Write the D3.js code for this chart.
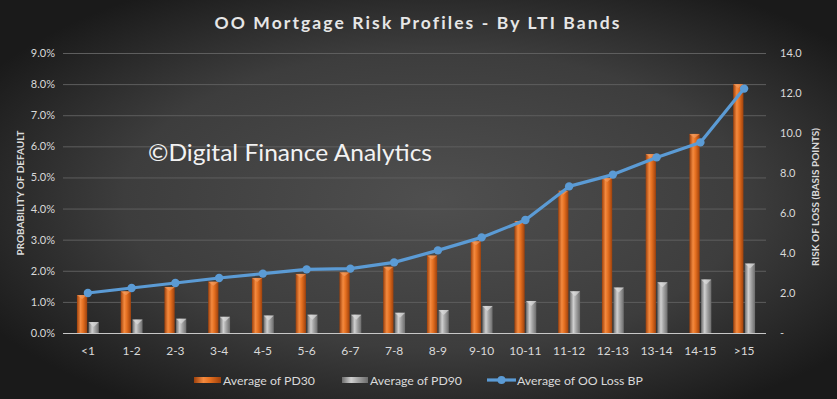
<!DOCTYPE html>
<html><head><meta charset="utf-8">
<script src="https://cdn.jsdelivr.net/npm/d3@7"></script>
<style>html,body{margin:0;padding:0;background:#333;overflow:hidden}svg{display:block}</style>
</head><body><svg id="c" width="837" height="399"></svg>
<script>
const categories = ["<1","1-2","2-3","3-4","4-5","5-6","6-7","7-8","8-9","9-10","10-11","11-12","12-13","13-14","14-15",">15"];
const pd30 = [1.22,1.34,1.48,1.65,1.77,1.90,1.95,2.13,2.49,2.95,3.60,4.57,4.98,5.75,6.40,8.00];
const pd90 = [0.35,0.43,0.46,0.52,0.56,0.59,0.59,0.65,0.74,0.87,1.03,1.34,1.46,1.63,1.72,2.23];
const lossBP = [2.00,2.25,2.50,2.75,2.97,3.18,3.22,3.53,4.13,4.78,5.65,7.33,7.92,8.78,9.53,12.22];
const leftTicks = [0,1,2,3,4,5,6,7,8,9];
const rightTicks = [0,2,4,6,8,10,12,14];
const seriesNames = ["Average of PD30","Average of PD90","Average of OO Loss BP"];

const svg = d3.select("#c");
const W = 837, H = 399;
const defs = svg.append("defs");
const bg = defs.append("radialGradient").attr("id","bg").attr("cx","52%").attr("cy","50%").attr("r","62%");
bg.append("stop").attr("offset","0%").attr("stop-color","#4f4f4f");
bg.append("stop").attr("offset","60%").attr("stop-color","#3d3d3d");
bg.append("stop").attr("offset","100%").attr("stop-color","#1a1a1a");
function cyl(id, edge, mid, hi){
  const g = defs.append("linearGradient").attr("id",id).attr("x1","0").attr("x2","1").attr("y1","0").attr("y2","0");
  g.append("stop").attr("offset","0%").attr("stop-color",edge);
  g.append("stop").attr("offset","35%").attr("stop-color",hi);
  g.append("stop").attr("offset","60%").attr("stop-color",mid);
  g.append("stop").attr("offset","100%").attr("stop-color",edge);
}
cyl("gO","#9e410c","#e46f20","#f48a3f");
cyl("gG","#6c6c6c","#a6a6a6","#d0d0d0");
svg.append("rect").attr("width",W).attr("height",H).attr("fill","url(#bg)");

const yL = d3.scaleLinear().domain([0,9]).range([333,53]);
const yR = d3.scaleLinear().domain([0,14]).range([333,53]);
const x = d3.scaleBand().domain(categories).range([66,766]).paddingInner(0.5).paddingOuter(0.25);
const x1 = d3.scaleBand().domain(["pd30","pd90"]).range([0,x.bandwidth()]).paddingInner(0.12);

// gridlines
svg.append("g").selectAll("line").data(leftTicks.slice(1)).join("line")
  .attr("x1",63).attr("x2",766).attr("y1",d=>yL(d)+0.5).attr("y2",d=>yL(d)+0.5)
  .attr("stroke","#5e5e5e").attr("stroke-width",1);

const font = "Lato, 'Open Sans', sans-serif";
// left axis
const gl = svg.append("g").attr("transform","translate(63,0)")
  .call(d3.axisLeft(yL).tickValues(leftTicks).tickSize(0).tickPadding(8).tickFormat(d=>d.toFixed(1)+"%"));
gl.select(".domain").remove();
gl.selectAll("text").attr("fill","#d9d9d9").style("font-family",font).style("font-size","11px");
// right axis
const gr = svg.append("g").attr("transform","translate(770,0)")
  .call(d3.axisRight(yR).tickValues(rightTicks).tickSize(0).tickPadding(10).tickFormat(d=>d===0?"-":d.toFixed(1)));
gr.select(".domain").remove();
gr.selectAll("text").attr("fill","#d9d9d9").style("font-family",font).style("font-size","11px");
// x axis
const gx = svg.append("g").attr("transform","translate(0,333)")
  .call(d3.axisBottom(x).tickSize(0).tickPadding(13));
gx.select(".domain").remove();
gx.selectAll("text").attr("fill","#d9d9d9").style("font-family",font).style("font-size","12px");

// bars
const gb = svg.append("g");
gb.selectAll("rect.o").data(categories).join("rect").attr("class","o")
  .attr("x",d=>x(d)+x1("pd30")).attr("width",x1.bandwidth())
  .attr("y",(d,i)=>yL(pd30[i])).attr("height",(d,i)=>yL(0)-yL(pd30[i]))
  .attr("fill","url(#gO)");
gb.selectAll("rect.g").data(categories).join("rect").attr("class","g")
  .attr("x",d=>x(d)+x1("pd90")).attr("width",x1.bandwidth())
  .attr("y",(d,i)=>yL(pd90[i])).attr("height",(d,i)=>yL(0)-yL(pd90[i]))
  .attr("fill","url(#gG)");
// bevel tops
gb.selectAll("path.gt").data(categories).join("path").attr("class","gt")
  .attr("d",(d,i)=>{const x0=x(d)+x1("pd90"),w=x1.bandwidth(),y0=yL(pd90[i]);
    return `M${x0},${y0}L${x0+w},${y0}L${x0+w/2},${y0+5}Z`;})
  .attr("fill","#dcdcdc").attr("opacity",0.7);
gb.selectAll("path.ot").data(categories).join("path").attr("class","ot")
  .attr("d",(d,i)=>{const x0=x(d)+x1("pd30"),w=x1.bandwidth(),y0=yL(pd30[i]);
    return `M${x0},${y0}L${x0+w},${y0}L${x0+w/2},${y0+4}Z`;})
  .attr("fill","#f4a066").attr("opacity",0.6);

// baseline
svg.append("line").attr("x1",63).attr("x2",766).attr("y1",333.5).attr("y2",333.5)
  .attr("stroke","#c8c8c8").attr("stroke-width",1);

// line
const cx = d=>x(d)+x.bandwidth()/2;
const line = d3.line().x((d,i)=>cx(categories[i])).y(d=>yR(d));
svg.append("path").datum(lossBP).attr("d",line).attr("fill","none")
  .attr("stroke","#5b9bd5").attr("stroke-width",3.2).attr("stroke-linejoin","round");
svg.append("g").selectAll("circle").data(lossBP).join("circle")
  .attr("cx",(d,i)=>cx(categories[i])).attr("cy",d=>yR(d)).attr("r",4.2).attr("fill","#5b9bd5");

// title
svg.append("text").attr("x",418).attr("y",29).attr("text-anchor","middle")
  .attr("fill","#e6e6e6").style("font-family",font).style("font-weight","bold").style("font-size","17.5px")
  .style("letter-spacing","2.1px").text("OO Mortgage Risk Profiles - By LTI Bands");
// watermark
svg.append("text").attr("x",148).attr("y",161)
  .attr("fill","#f2f2f2").style("font-family",font).style("font-size","24px")
  .attr("textLength",284).attr("lengthAdjust","spacingAndGlyphs").text("©Digital Finance Analytics");
// axis titles
svg.append("text").attr("transform","translate(24,193) rotate(-90)").attr("text-anchor","middle")
  .attr("fill","#d9d9d9").style("font-family",font).style("font-weight","bold").style("font-size","10px")
  .text("PROBABILITY OF DEFAULT");
svg.append("text").attr("transform","translate(819,197) rotate(-90)").attr("text-anchor","middle")
  .attr("fill","#d9d9d9").style("font-family",font).style("font-weight","bold").style("font-size","10px")
  .text("RISK OF LOSS (BASIS POINTS)");

// legend
const lg = svg.append("g").style("font-family",font).style("font-size","12.3px");
lg.append("rect").attr("x",194).attr("y",377).attr("width",27).attr("height",6).attr("fill","url(#gO)");
lg.append("text").attr("x",223).attr("y",384.5).attr("fill","#d9d9d9").text(seriesNames[0]);
lg.append("rect").attr("x",342).attr("y",377).attr("width",26).attr("height",6).attr("fill","url(#gG)");
lg.append("text").attr("x",370).attr("y",384.5).attr("fill","#d9d9d9").text(seriesNames[1]);
lg.append("line").attr("x1",487).attr("x2",516).attr("y1",380).attr("y2",380).attr("stroke","#5b9bd5").attr("stroke-width",3.2);
lg.append("circle").attr("cx",501.5).attr("cy",380).attr("r",4).attr("fill","#5b9bd5");
lg.append("text").attr("x",517).attr("y",384.5).attr("fill","#d9d9d9").text(seriesNames[2]);
</script></body></html>
